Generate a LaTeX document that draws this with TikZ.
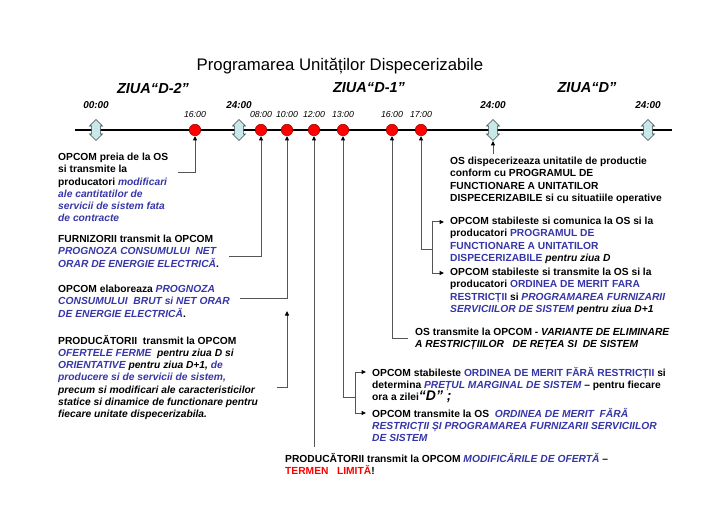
\documentclass[tikz,border=0pt]{standalone}
\usepackage{fontspec}
\setmainfont{Liberation Sans}
\usetikzlibrary{arrows.meta,positioning,shapes.arrows}
\definecolor{cblue}{HTML}{3636A8}
\definecolor{cred}{HTML}{FF0000}
\definecolor{cdot}{HTML}{FF0000}
\definecolor{cdotD}{HTML}{9C0000}
\definecolor{cmark}{HTML}{C8E8EA}
\definecolor{cmarkD}{HTML}{3A4A4A}
\definecolor{cline}{HTML}{555555}
\newcommand{\blu}[1]{\textcolor{cblue}{#1}}
\newcommand{\bluit}[1]{\textcolor{cblue}{\itshape #1}}
\tikzset{
  txt/.style={anchor=north west, align=left, inner sep=0pt,
              font=\fontsize{10.3}{12.3}\selectfont\bfseries,
              execute at begin node=\strut},
  hour/.style={inner sep=0pt, anchor=base, font=\fontsize{8.8}{9}\selectfont\itshape},
  bighour/.style={inner sep=0pt, anchor=base, font=\fontsize{10}{11}\selectfont\bfseries\itshape},
  daylbl/.style={inner sep=0pt, font=\fontsize{14.6}{16}\selectfont\bfseries\itshape},
  evdot/.style={circle, fill=cdot, draw=cdotD, line width=0.5pt, minimum size=11.5bp, inner sep=0pt},
  daymark/.style={double arrow, shape border rotate=90, fill=cmark, draw=cmarkD,
                  line width=0.6pt, minimum height=21bp, minimum width=13bp,
                  double arrow head extend=2bp, inner sep=4bp},
  axis/.style={line width=1.8bp, black},
  conn/.style={draw=cline, line width=1bp},
  tip/.style={conn, -{Triangle[length=4.5bp, width=4bp, black]}},
}
\begin{document}
\begin{tikzpicture}[x=1bp, y=-1bp]
  \useasboundingbox (0,0) rectangle (728,514);
  % title and days
  \node[font=\fontsize{16.8}{20}\selectfont, inner sep=0pt] (title) at (340,66) {Programarea Unităților Dispecerizabile};
  \node[daylbl] (zD2) at (153,88) {ZIUA“D-2”};
  \node[daylbl] (zD1) at (369,88) {ZIUA“D-1”};
  \node[daylbl] (zD) at (587,88) {ZIUA“D”};
  % time axis
  \coordinate (axA) at (75,130);
  \coordinate (axB) at (672,130);
  \draw[axis] (axA) -- (axB);
  \node[daymark] (m0) at (96,130) {};
  \node[daymark] (m1) at (239,130) {};
  \node[daymark] (m2) at (493,130) {};
  \node[daymark] (m3) at (648,130) {};
  \node[bighour, above=10bp of m0] (h0) {00:00};
  \node[bighour, above=10bp of m1] (h1) {24:00};
  \node[bighour, above=10bp of m2] (h2) {24:00};
  \node[bighour, above=10bp of m3] (h3) {24:00};
  \foreach \n/\x/\t in {d1/195/16:00, d2/261/08:00, d3/287/10:00, d4/314/12:00,
                        d5/343/13:00, d6/392/16:00, d7/421/17:00} {
    \node[evdot] (\n) at (\x,130) {};
    \node[hour, above=6bp of \n] (t\n) {\t};
  }
  % left texts
  \node[txt] (preia) at (58,152.9) {OPCOM preia de la OS\\si transmite la\\producatori \bluit{modificari}\\\bluit{ale cantitatilor de}\\\bluit{servicii de sistem fata}\\\bluit{de contracte}};
  \node[txt] (furniz) at (58,234.9) {FURNIZORII transmit la OPCOM\\\bluit{PROGNOZA CONSUMULUI\ \ NET}\\\bluit{ORAR DE ENERGIE ELECTRICĂ}.};
  \node[txt] (elab) at (58,284.9) {OPCOM elaboreaza \bluit{PROGNOZA}\\\bluit{CONSUMULUI\ \ BRUT si NET ORAR}\\\bluit{DE ENERGIE ELECTRICĂ}.};
  \node[txt] (oferte) at (58,334.9) {PRODUCĂTORII\ \ transmit la OPCOM\\\bluit{OFERTELE FERME}\ \ \textit{pentru ziua D si}\\\bluit{ORIENTATIVE} \textit{pentru ziua D+1,} \bluit{de}\\\bluit{producere si de servicii de sistem,}\\\textit{precum si modificari ale caracteristicilor}\\\textit{statice si dinamice de functionare pentru}\\\textit{fiecare unitate dispecerizabila.}};
  % right texts
  \node[txt] (dispec) at (450,156.9) {OS dispecerizeaza unitatile de productie\\conform cu PROGRAMUL DE\\FUNCTIONARE A UNITATILOR\\DISPECERIZABILE si cu situatiile operative};
  \node[txt] (comunic) at (450,216.9) {OPCOM stabileste si comunica la OS si la\\producatori \blu{PROGRAMUL DE}\\\blu{FUNCTIONARE A UNITATILOR}\\\blu{DISPECERIZABILE} \textit{pentru ziua D}};
  \node[txt] (merit) at (450,267.9) {OPCOM stabileste si transmite la OS si la\\producatori \blu{ORDINEA DE MERIT FARA}\\\blu{RESTRICȚII} si \bluit{PROGRAMAREA FURNIZARII}\\\bluit{SERVICIILOR DE SISTEM} \textit{pentru ziua D+1}};
  \node[txt] (variante) at (415,327.9) {OS transmite la OPCOM - \textit{VARIANTE DE ELIMINARE}\\\textit{A RESTRICȚIILOR\ \ \ DE REȚEA SI\ \ DE SISTEM}};
  \node[txt] (pret) at (372,366.9) {OPCOM stabileste \blu{ORDINEA DE MERIT FĂRĂ RESTRICȚII} si\\determina \bluit{PREȚUL MARGINAL DE SISTEM} – pentru fiecare\\ora a zilei\textit{\fontsize{14}{12}\selectfont“D” ;}};
  \node[txt] (transm) at (372,407.9) {OPCOM transmite la OS\ \ \bluit{ORDINEA DE MERIT\ \ FĂRĂ}\\\bluit{RESTRICȚII ȘI PROGRAMAREA FURNIZARII SERVICIILOR}\\\bluit{DE SISTEM}};
  \node[txt] (modif) at (285,452.9) {PRODUCĂTORII transmit la OPCOM \bluit{MODIFICĂRILE DE OFERTĂ} –\\\textcolor{cred}{TERMEN\ \ \ LIMITĂ}!};
  % connectors
  \coordinate (s1) at (178,173);
  \coordinate (s2) at (229,257);
  \coordinate (s3) at (240,298);
  \coordinate (s4) at (277,387);
  \coordinate (e4) at (287,311);
  \coordinate (s5) at (314,447);
  \coordinate (j5) at (343,397);
  \coordinate (b5) at (355,397);
  \coordinate (s6) at (408,338);
  \coordinate (j7) at (421,250);
  \coordinate (b7) at (432,250);
  \coordinate (s8) at (493,154);
  \draw[tip] (s1) -| (d1);
  \draw[tip] (s2) -| (d2);
  \draw[tip] (s3) -| (d3);
  \draw[tip] (s4) -| (e4);
  \draw[tip] (s5) -- (d4);
  \draw[tip] (j5) -- (d5);
  \draw[conn] (j5) -- (b5);
  \draw[tip] (b5) |- ([shift={(-6,5.1)}]pret.north west);
  \draw[tip] (b5) |- ([shift={(-6,5.1)}]transm.north west);
  \draw[tip] (s6) -| (d6);
  \draw[tip] (j7) -- (d7);
  \draw[conn] (j7) -- (b7);
  \draw[tip] (b7) |- ([shift={(-6,5.1)}]comunic.north west);
  \draw[tip] (b7) |- ([shift={(-6,5.1)}]merit.north west);
  \draw[tip] (s8) -- (m2);
\end{tikzpicture}
\end{document}
